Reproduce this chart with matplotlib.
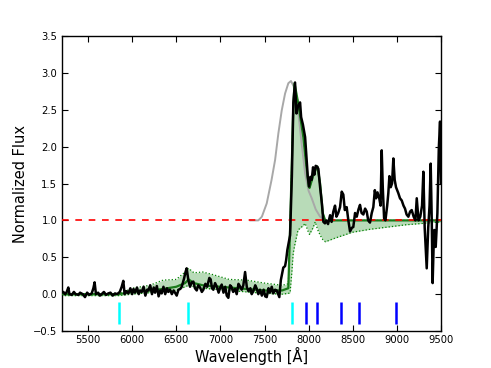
import numpy as np
import matplotlib
matplotlib.use("Agg")
import matplotlib.pyplot as plt

plt.rcParams['font.family'] = ['DejaVu Sans']

# Observed spectrum (black)
spec_wave = [5200, 5221, 5240, 5259, 5277, 5290, 5316, 5340, 5360, 5391, 5410, 5440, 5466, 5490, 5515,
             5542, 5561, 5575, 5590, 5615, 5635, 5655, 5680, 5705, 5730, 5755, 5780, 5806, 5830, 5860,
             5882, 5900, 5915, 5935, 5957, 5980, 6000, 6015, 6033, 6055, 6075, 6090, 6109, 6130, 6150,
             6170, 6184, 6205, 6225, 6245, 6260, 6280, 6300, 6320, 6335, 6355, 6375, 6395, 6410, 6430,
             6450, 6470, 6486, 6505, 6525, 6545, 6562, 6588, 6605, 6618, 6637, 6656, 6675, 6694, 6712,
             6732, 6750, 6770, 6790, 6807, 6830, 6850, 6875, 6890, 6905, 6920, 6940, 6960, 6980, 6996,
             7015, 7035, 7055, 7072, 7090, 7110, 7125, 7145, 7166, 7185, 7205, 7225, 7242, 7260, 7280,
             7299, 7318, 7340, 7355, 7373, 7395, 7410, 7430, 7449, 7470, 7490, 7508, 7525, 7545, 7562,
             7582, 7600, 7620, 7638, 7655, 7668, 7685, 7700, 7713, 7733, 7745, 7759, 7775, 7790, 7810,
             7827, 7846, 7862, 7880, 7903, 7915, 7935, 7960, 7975, 7990, 8005, 8020, 8035, 8050, 8065,
             8080, 8095, 8110, 8130, 8150, 8167, 8185, 8200, 8220, 8243, 8260, 8280, 8299, 8315, 8335,
             8356, 8375, 8393, 8410, 8431, 8450, 8469, 8490, 8506, 8526, 8545, 8565, 8582, 8600, 8620,
             8640, 8658, 8675, 8695, 8715, 8733, 8750, 8765, 8780, 8800, 8815, 8828, 8840, 8855, 8870,
             8890, 8903, 8915, 8930, 8945, 8960, 8975, 8990, 9016, 9035, 9055, 9075, 9092, 9110, 9130,
             9150, 9168, 9190, 9210, 9225, 9245, 9265, 9285, 9300, 9315, 9338, 9355, 9370, 9383, 9395,
             9405, 9415, 9424, 9440, 9459, 9475, 9489, 9500]
spec_flux = [0.02, 0.03, 0.0, 0.03, 0.09, 0.0, -0.01, 0.03, 0.0, -0.01, 0.02, 0.0, -0.04, 0.02, -0.01,
             0.01, 0.08, 0.16, 0.0, 0.02, -0.02, 0.0, 0.03, -0.01, 0.01, 0.02, -0.02, 0.01, 0.0, 0.03,
             0.1, 0.18, 0.0, 0.04, 0.01, 0.08, 0.0, 0.07, 0.02, 0.09, 0.0, 0.05, 0.03, 0.1, -0.02,
             0.06, 0.05, 0.12, 0.0, 0.09, 0.02, 0.11, -0.03, 0.05, 0.01, 0.1, 0.0, 0.08, 0.03, 0.06,
             0.0, 0.05, 0.02, -0.02, 0.06, 0.07, 0.1, 0.21, 0.3, 0.35, 0.19, 0.1, 0.16, 0.17, 0.08,
             0.05, 0.12, 0.09, 0.03, 0.06, 0.14, 0.1, 0.22, 0.2, 0.08, 0.06, 0.15, 0.1, 0.02, 0.08,
             0.13, 0.02, 0.1, -0.02, -0.05, 0.12, 0.1, 0.03, 0.07, 0.0, 0.14, 0.1, 0.06, 0.12, 0.3,
             0.1, 0.04, 0.08, 0.0, 0.04, 0.12, 0.08, 0.0, 0.06, -0.02, 0.06, -0.03, -0.04, 0.08, 0.02,
             0.1, 0.01, 0.06, 0.05, 0.0, -0.04, 0.19, 0.28, 0.36, 0.38, 0.46, 0.6, 0.7, 0.8, 1.6,
             2.6, 2.87, 2.45, 2.55, 2.6, 2.4, 2.3, 2.13, 1.86, 1.6, 1.46, 1.59, 1.55, 1.72, 1.62,
             1.74, 1.73, 1.7, 1.45, 1.23, 0.98, 0.96, 1.0, 0.95, 1.07, 0.98, 1.12, 1.2, 1.05, 1.1,
             1.18, 1.39, 1.35, 1.14, 1.18, 1.0, 0.85, 0.9, 0.91, 1.1, 1.05, 1.15, 1.21, 1.1, 1.08,
             1.16, 1.12, 1.0, 0.97, 1.1, 1.18, 1.41, 1.3, 1.38, 1.3, 1.2, 1.95, 1.45, 1.03, 1.0,
             1.2, 1.37, 1.6, 1.45, 1.5, 1.84, 1.55, 1.45, 1.37, 1.3, 1.27, 1.2, 1.16, 1.08, 1.05,
             1.12, 1.14, 1.05, 1.0, 1.3, 1.0, 1.05, 1.2, 1.66, 0.9, 0.35, 0.9, 1.2, 1.77, 1.0,
             0.15, 0.6, 0.87, 0.64, 1.1, 1.98, 2.34, 1.5]

# Model (green) with its upper/lower envelope
model_wave = [5200, 5850, 6000, 6200, 6350, 6500, 6600, 6640, 6700, 6800, 6900, 7100, 7300, 7500,
              7700, 7770, 7790, 7810, 7825, 7840, 7880, 7940, 7960, 8000, 8010, 8050, 8075, 8100,
              8130, 8160, 8190, 8300, 8500, 8700, 8900, 9100, 9300, 9500]
model_flux = [0.0, 0.0, 0.03, 0.05, 0.07, 0.1, 0.15, 0.2, 0.15, 0.12, 0.11, 0.09, 0.07, 0.05,
              0.05, 0.08, 0.9, 1.8, 2.5, 2.86, 2.6, 2.13, 1.9, 1.46, 1.44, 1.6, 1.68, 1.73,
              1.5, 1.1, 0.99, 1.0, 1.0, 1.0, 1.0, 1.0, 1.0, 1.0]
upper_flux = [0.0, 0.0, 0.08, 0.12, 0.19, 0.2, 0.3, 0.35, 0.29, 0.3, 0.27, 0.2, 0.19, 0.15,
              0.12, 0.14, 0.9, 1.8, 2.5, 2.86, 2.6, 2.13, 1.9, 1.46, 1.44, 1.6, 1.68, 1.73,
              1.5, 1.1, 1.0, 1.0, 1.0, 1.0, 1.0, 1.0, 1.0, 1.0]
lower_flux = [-0.02, -0.02, 0.0, 0.02, 0.04, 0.05, 0.1, 0.12, 0.1, 0.08, 0.07, 0.05, 0.03, 0.01,
              0.0, 0.01, 0.02, 0.3, 0.55, 0.65, 0.87, 0.93, 0.96, 0.83, 0.81, 0.9, 0.98, 0.88,
              0.8, 0.74, 0.71, 0.76, 0.84, 0.88, 0.91, 0.94, 0.96, 0.98]

# Gray comparison profile
gray_wave = [7340, 7430, 7470, 7525, 7580, 7620, 7657, 7695, 7733, 7770, 7800, 7830, 7880, 7920,
             7960, 8000, 8035, 8080, 8130, 8190]
gray_flux = [1.0, 1.0, 1.05, 1.23, 1.55, 1.82, 2.18, 2.49, 2.72, 2.86, 2.89, 2.82, 2.5, 2.05,
             1.64, 1.4, 1.3, 1.15, 1.05, 1.0]

# Line markers
cyan_lines = [5850, 6630, 7810]
blue_lines = [7965, 8095, 8362, 8575, 8993]

fig = plt.figure(figsize=(4.91, 3.68), dpi=100)
ax = fig.add_axes([0.1253, 0.1005, 0.7729, 0.8016])

ax.fill_between(model_wave, lower_flux, upper_flux, color='green', alpha=0.28, linewidth=0, zorder=1)
ax.plot(model_wave, upper_flux, color='green', ls=':', lw=0.9, zorder=2)
ax.plot(model_wave, lower_flux, color='green', ls=':', lw=0.9, zorder=2)
ax.plot(gray_wave, gray_flux, color='#a8a8a8', lw=1.4, zorder=3)
ax.plot(model_wave, model_flux, color='#1a7a1a', lw=1.6, zorder=4)
ax.axhline(1.0, color='red', ls='--', lw=1.2, dashes=(4, 4), zorder=5)
ax.plot(spec_wave, spec_flux, color='black', lw=1.8, zorder=6)
ax.vlines(cyan_lines, -0.4, -0.1, color='cyan', lw=1.8, zorder=6)
ax.vlines(blue_lines, -0.4, -0.1, color='blue', lw=1.8, zorder=6)

ax.set_xlim(5200, 9500)
ax.set_ylim(-0.5, 3.5)
ax.set_xticks([5500, 6000, 6500, 7000, 7500, 8000, 8500, 9000, 9500])
ax.set_yticks([-0.5, 0.0, 0.5, 1.0, 1.5, 2.0, 2.5, 3.0, 3.5])
ax.tick_params(direction='in', top=True, right=True, length=4, width=0.8, labelsize=7.2, pad=3)
for s in ax.spines.values():
    s.set_linewidth(1.0)
ax.set_xlabel('Wavelength [Å]', fontsize=10.5, labelpad=1)
ax.set_ylabel('Normalized Flux', fontsize=10.5, labelpad=4)

fig.savefig('out.png', dpi=100)
